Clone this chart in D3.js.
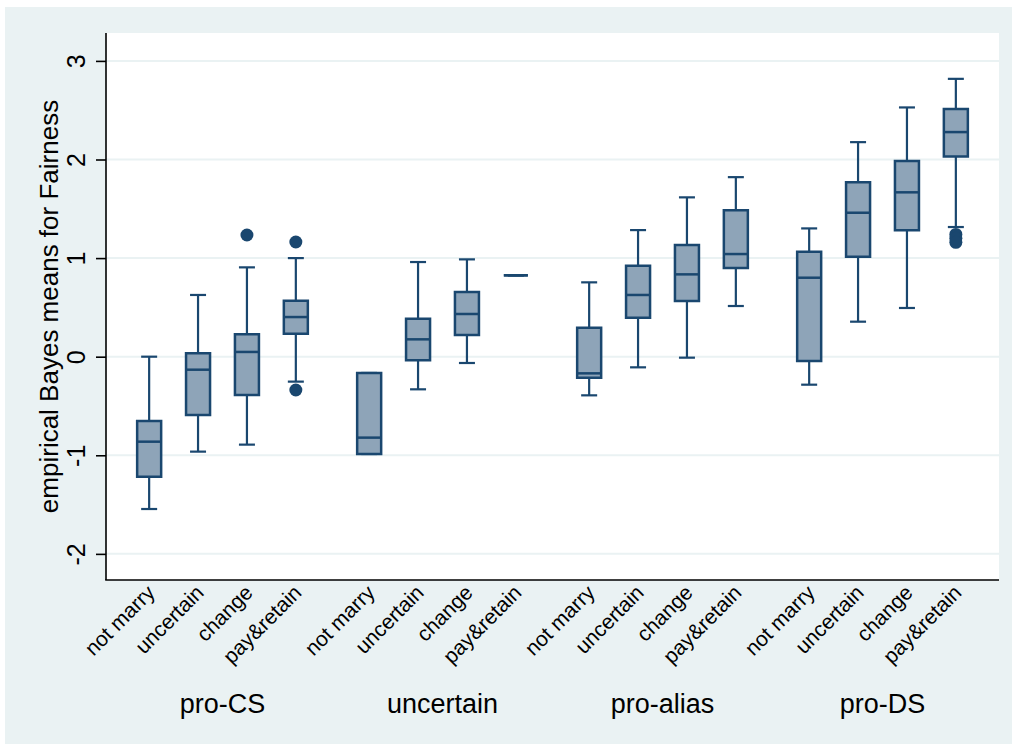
<!DOCTYPE html>
<html>
<head>
<meta charset="utf-8">
<script src="https://cdn.jsdelivr.net/npm/d3@7"></script>
<style>
  html, body { margin: 0; padding: 0; background: #ffffff; }
  svg { display: block; }
  text { font-family: "Liberation Sans", Arial, Helvetica, sans-serif; fill: #000; }
</style>
</head>
<body>
<svg id="chart" width="1012" height="744"></svg>
<script>
// ---------------- data ----------------
const groups = ["pro-CS", "uncertain", "pro-alias", "pro-DS"];
const categories = ["not marry", "uncertain", "change", "pay&retain"];
const yTicks = [-2, -1, 0, 1, 2, 3];
const yTitle = "empirical Bayes means for Fairness";

// values listed group by group (4 categories per group)
const whiskerLow  = [-1.545, -0.963, -0.892, -0.253,  -0.987, -0.331, -0.064, 0.825,  -0.392, -0.108, -0.010, 0.514,  -0.284, 0.355, 0.494, 1.315];
const q1          = [-1.217, -0.591, -0.388,  0.233,  -0.987, -0.037,  0.220, 0.825,  -0.213,  0.395,  0.565, 0.899,  -0.044, 1.014, 1.282, 2.031];
const medians     = [-0.862, -0.132,  0.048,  0.402,  -0.821,  0.176,  0.433, 0.825,  -0.169,  0.626,  0.835, 1.041,   0.801, 1.460, 1.667, 2.278];
const q3          = [-0.652,  0.034,  0.227,  0.568,  -0.165,  0.385,  0.656, 0.825,   0.294,  0.922,  1.132, 1.484,   1.064, 1.768, 1.984, 2.511];
const whiskerHigh = [ 0.000,  0.626,  0.906,  1.000,  -0.165,  0.960,  0.987, 0.825,   0.754,  1.284,  1.616, 1.821,   1.301, 2.176, 2.528, 2.818];
const outliers    = [[], [], [1.234], [1.163, -0.338],  [], [], [], [],  [], [], [], [],  [], [], [], [1.24, 1.20, 1.16]];

// ---------------- layout ----------------
const W = 1012, H = 744;
const plot = { left: 106, right: 999, top: 33, bottom: 580 };
const navy = "#1a476f";
const boxFill = "#8ea4b8";
const bg = "#eaf2f3";

const svg = d3.select("#chart");

// outer graph region
svg.append("rect").attr("x", 5).attr("y", 7).attr("width", W - 5).attr("height", H - 7).attr("fill", bg);
// plot region
svg.append("rect").attr("x", plot.left).attr("y", plot.top)
  .attr("width", plot.right - plot.left).attr("height", plot.bottom - plot.top).attr("fill", "#ffffff");

const y = d3.scaleLinear().domain([-2.265, 3.283]).range([plot.bottom, plot.top]);
const xGroup = d3.scaleBand().domain(groups).range([plot.left, plot.right]).paddingInner(0.111).paddingOuter(0.085);
const xCat = d3.scaleBand().domain(categories).range([0, xGroup.bandwidth()]).padding(0);

// build records
const records = [];
groups.forEach((g, gi) => {
  categories.forEach((c, ci) => {
    const i = gi * categories.length + ci;
    records.push({
      group: g, cat: c,
      cx: xGroup(g) + xCat(c) + xCat.bandwidth() / 2,
      lo: whiskerLow[i], q1: q1[i], med: medians[i], q3: q3[i], hi: whiskerHigh[i],
      out: outliers[i]
    });
  });
});

// gridlines
svg.append("g").selectAll("line").data(yTicks).join("line")
  .attr("x1", plot.left).attr("x2", plot.right)
  .attr("y1", d => y(d)).attr("y2", d => y(d))
  .attr("stroke", bg).attr("stroke-width", 2);

// boxes
const boxW = 24, capW = 16;
const gBox = svg.append("g");
records.forEach(r => {
  const g = gBox.append("g");
  // whiskers
  g.append("line").attr("x1", r.cx).attr("x2", r.cx).attr("y1", y(r.q3)).attr("y2", y(r.hi))
    .attr("stroke", navy).attr("stroke-width", 2.2);
  g.append("line").attr("x1", r.cx).attr("x2", r.cx).attr("y1", y(r.q1)).attr("y2", y(r.lo))
    .attr("stroke", navy).attr("stroke-width", 2.2);
  // caps
  [r.hi, r.lo].forEach(v => {
    g.append("line").attr("x1", r.cx - capW / 2).attr("x2", r.cx + capW / 2)
      .attr("y1", y(v)).attr("y2", y(v)).attr("stroke", navy).attr("stroke-width", 2.2);
  });
  // box
  const x0 = r.cx - boxW / 2, x1 = r.cx + boxW / 2;
  g.append("path")
    .attr("d", `M${x0},${y(r.q3)}H${x1}V${y(r.q1)}H${x0}Z`)
    .attr("fill", boxFill).attr("stroke", navy).attr("stroke-width", 2.5)
    .attr("stroke-linejoin", "miter");
  // median
  g.append("line").attr("x1", x0).attr("x2", x1).attr("y1", y(r.med)).attr("y2", y(r.med))
    .attr("stroke", navy).attr("stroke-width", 2.5);
  // outliers
  g.selectAll("circle").data(r.out).join("circle")
    .attr("cx", r.cx).attr("cy", d => y(d)).attr("r", 6.5).attr("fill", navy);
});

// y axis
const yAxis = svg.append("g").attr("transform", `translate(${plot.left},0)`)
  .call(d3.axisLeft(y).tickValues(yTicks).tickSize(10).tickFormat(d => String(d)));
yAxis.select(".domain").attr("d", `M0,${plot.top}V${plot.bottom}`).attr("stroke", "#000").attr("stroke-width", 1.6);
yAxis.selectAll(".tick line").attr("stroke", "#000").attr("stroke-width", 1.6);
yAxis.selectAll(".tick text")
  .attr("transform", "rotate(-90)")
  .attr("x", 0).attr("y", -21).attr("dy", 0)
  .attr("text-anchor", "middle")
  .style("font-size", "25px").style("font-family", "Liberation Sans, Arial, sans-serif").attr("fill", "#000");

// x axis line
svg.append("line").attr("x1", plot.left - 0.8).attr("x2", plot.right).attr("y1", plot.bottom).attr("y2", plot.bottom)
  .attr("stroke", "#000").attr("stroke-width", 1.6);

// x category labels (rotated)
svg.append("g").selectAll("text").data(records).join("text")
  .attr("transform", d => `translate(${d.cx + 7},${plot.bottom + 14}) rotate(-45)`)
  .attr("text-anchor", "end")
  .style("font-size", "21px")
  .text(d => d.cat);

// group labels
svg.append("g").selectAll("text").data(groups).join("text")
  .attr("x", d => xGroup(d) + xGroup.bandwidth() / 2)
  .attr("y", 713)
  .attr("text-anchor", "middle")
  .style("font-size", "27px")
  .text(d => d);

// y title
svg.append("text")
  .attr("transform", `translate(58,${(plot.top + plot.bottom) / 2}) rotate(-90)`)
  .attr("text-anchor", "middle")
  .style("font-size", "26px")
  .text(yTitle);
</script>
</body>
</html>
